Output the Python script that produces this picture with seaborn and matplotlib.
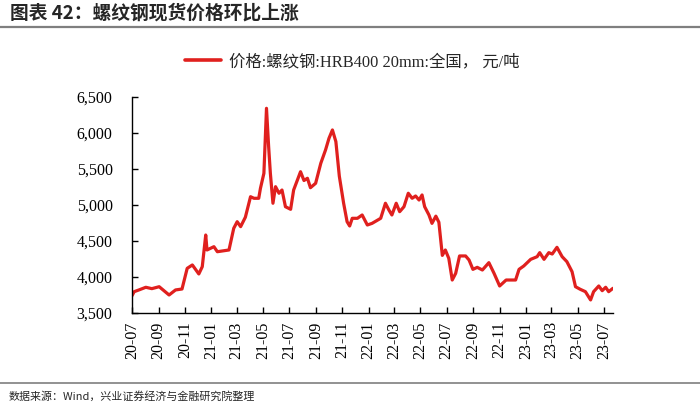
import matplotlib
matplotlib.use("Agg")
import matplotlib.pyplot as plt
import matplotlib.dates as mdates
from matplotlib.ticker import FuncFormatter
from matplotlib.lines import Line2D
import seaborn as sns
import pandas as pd

# ---- data ----
dates = [
    "2020-07-01", "2020-07-06", "2020-07-17", "2020-08-02", "2020-08-16", "2020-09-02",
    "2020-09-25", "2020-10-10", "2020-10-25", "2020-11-06", "2020-11-18", "2020-12-03",
    "2020-12-11", "2020-12-19", "2020-12-22", "2021-01-07", "2021-01-15", "2021-02-11",
    "2021-02-22", "2021-03-02", "2021-03-10", "2021-03-21", "2021-04-02", "2021-04-10",
    "2021-04-21", "2021-04-25", "2021-05-03", "2021-05-09", "2021-05-14", "2021-05-18",
    "2021-05-24", "2021-05-30", "2021-06-07", "2021-06-14", "2021-06-22", "2021-07-04",
    "2021-07-11", "2021-07-27", "2021-08-04", "2021-08-12", "2021-08-19", "2021-08-31",
    "2021-09-12", "2021-09-23", "2021-10-01", "2021-10-09", "2021-10-17", "2021-10-25",
    "2021-11-04", "2021-11-12", "2021-11-18", "2021-11-24", "2021-12-06", "2021-12-17",
    "2021-12-29", "2022-01-09", "2022-01-29", "2022-02-09", "2022-02-17", "2022-02-24",
    "2022-03-06", "2022-03-14", "2022-03-24", "2022-04-03", "2022-04-12", "2022-04-20",
    "2022-04-28", "2022-05-05", "2022-05-11", "2022-05-21", "2022-05-28", "2022-06-06",
    "2022-06-13", "2022-06-21", "2022-06-28", "2022-07-06", "2022-07-14", "2022-07-22",
    "2022-07-31", "2022-08-14", "2022-08-22", "2022-08-31", "2022-09-10", "2022-09-22",
    "2022-10-07", "2022-10-19", "2022-11-01", "2022-11-16", "2022-12-08", "2022-12-16",
    "2022-12-27", "2023-01-12", "2023-01-27", "2023-02-02", "2023-02-12", "2023-02-23",
    "2023-03-03", "2023-03-14", "2023-03-26", "2023-04-06", "2023-04-18", "2023-04-26",
    "2023-05-07", "2023-05-19", "2023-05-31", "2023-06-07", "2023-06-19", "2023-06-27",
    "2023-07-05", "2023-07-12", "2023-07-22",
]
prices = [
    3740, 3796, 3820, 3857, 3838, 3865,
    3750, 3820, 3833, 4120, 4167, 4042,
    4143, 4583, 4375, 4421, 4351, 4375,
    4676, 4768, 4699, 4830, 5115, 5093,
    5093, 5232, 5440, 6343, 5810, 5440,
    5024, 5254, 5163, 5208, 4976, 4940,
    5208, 5462, 5340, 5371, 5240, 5301,
    5579, 5764, 5926, 6042, 5880, 5400,
    5024, 4768, 4708, 4815, 4815, 4861,
    4722, 4745, 4815, 5024, 4931, 4861,
    5024, 4907, 4976, 5163, 5093, 5125,
    5069, 5139, 4976, 4861, 4745, 4845,
    4760, 4300, 4375, 4259, 3958, 4051,
    4292, 4292, 4236, 4106, 4134, 4097,
    4199, 4051, 3875, 3958, 3958, 4106,
    4153, 4245, 4282, 4338, 4245, 4338,
    4319, 4412, 4282, 4213, 4074, 3865,
    3829, 3796, 3681, 3796, 3875, 3810,
    3857, 3796, 3843,
]
series_name = "价格:螺纹钢:HRB400 20mm:全国， 元/吨"
title_text = "图表 42：螺纹钢现货价格环比上涨"
source_text = "数据来源：Wind，兴业证券经济与金融研究院整理"
y_ticks = [3500, 4000, 4500, 5000, 5500, 6000, 6500]

df = pd.DataFrame({"date": pd.to_datetime(dates), "price": prices})

# ---- style ----
sns.set_style("ticks")
plt.rcParams["font.family"] = ["Liberation Serif", "Noto Sans CJK SC", "DejaVu Sans"]
plt.rcParams["axes.unicode_minus"] = False

RED = "#E0201E"

fig = plt.figure(figsize=(7.0, 4.07), dpi=100)
ax = fig.add_axes([0.1886, 0.2310, 0.8757 - 0.1886, 0.7617 - 0.2310])

sns.lineplot(data=df, x="date", y="price", ax=ax, color=RED, linewidth=2.3, legend=False)

ax.set_xlim(pd.Timestamp("2020-07-01"), pd.Timestamp("2023-07-22"))
ax.set_ylim(3500, 6500)
ax.set_yticks(y_ticks)
ax.yaxis.set_major_formatter(FuncFormatter(lambda v, p: f"{v:,.0f}"))
ax.xaxis.set_major_locator(mdates.MonthLocator(bymonth=[1, 3, 5, 7, 9, 11]))
ax.xaxis.set_major_formatter(mdates.DateFormatter("%y-%m"))
ax.set_xlabel("")
ax.set_ylabel("")

for lab in ax.get_xticklabels():
    lab.set_rotation(90)
ax.tick_params(axis="both", direction="in", length=4, width=1, colors="black",
               labelsize=11.5)
ax.tick_params(axis="x", pad=6)
ax.tick_params(axis="y", pad=14)

for side in ["top", "right"]:
    ax.spines[side].set_visible(False)
for side in ["left", "bottom"]:
    ax.spines[side].set_color("black")
    ax.spines[side].set_linewidth(1.0)

# legend
handle = Line2D([0], [0], color=RED, linewidth=2.6)
fig.legend([handle], [series_name], loc="center", bbox_to_anchor=(0.503, 0.848),
           frameon=False, handlelength=2.2, handletextpad=0.45,
           prop={"family": ["Liberation Serif", "Noto Sans CJK SC"], "size": 11.8})

# title and separators
fig.text(0.014, 0.968, title_text, ha="left", va="center", fontsize=13.5,
         fontweight="bold", family=["Noto Sans CJK SC", "DejaVu Sans"])
fig.add_artist(Line2D([0, 1], [1 - 27 / 407, 1 - 27 / 407], transform=fig.transFigure,
                      color="#7F7F7F", linewidth=1.6))
fig.add_artist(Line2D([0, 1], [1 - 383 / 407, 1 - 383 / 407], transform=fig.transFigure,
                      color="#7F7F7F", linewidth=1.2))
fig.text(0.012, 1 - 396 / 407, source_text, ha="left", va="center", fontsize=7.9,
         family=["Noto Sans CJK SC", "DejaVu Sans"])

fig.savefig("out.png", dpi=100)
